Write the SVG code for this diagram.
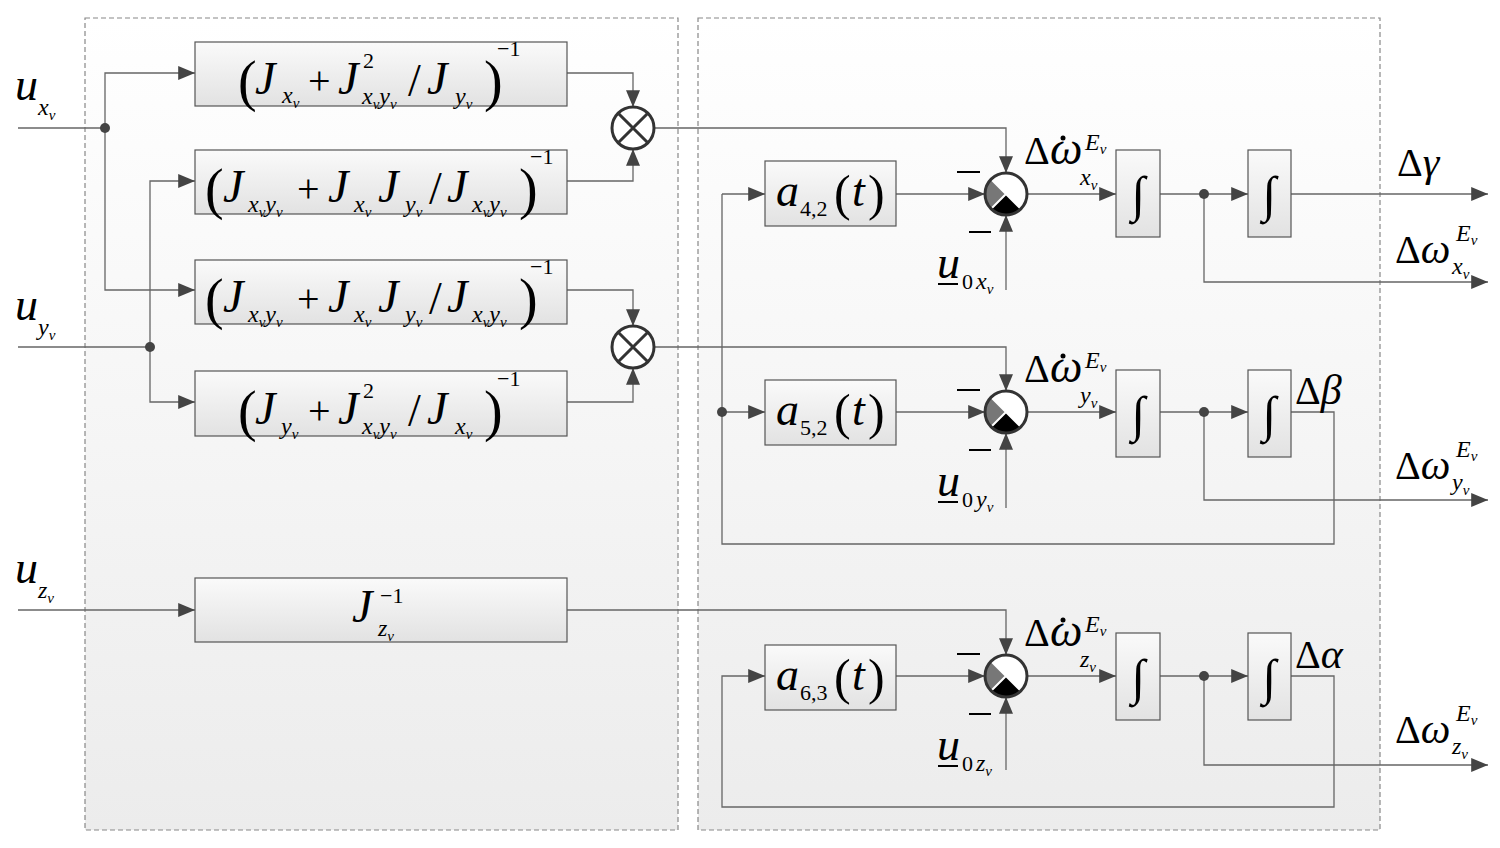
<svg xmlns="http://www.w3.org/2000/svg" width="1500" height="848" viewBox="0 0 1500 848">
<style>
.pn{fill:url(#g);stroke:#888;stroke-width:1.2;stroke-dasharray:5,3}
.bx{fill:url(#bg);stroke:#555;stroke-width:1.2}
.ln{fill:none;stroke:#666;stroke-width:1.3}
.ar{marker-end:url(#a)}
text{font-family:"Liberation Serif","DejaVu Serif","Times New Roman",serif;fill:#000}
.i{font-style:italic}
.J{font-style:italic;font-size:46px}
.P{font-size:56px}
.s{font-style:italic;font-size:24px}
.v{font-style:italic;font-size:15px}
.n{font-size:22px}
.mu{fill:#fff;stroke:#333;stroke-width:3}
</style>
<defs>
<linearGradient id="g" x1="0" y1="0" x2="0" y2="1"><stop offset="0" stop-color="#fff"/><stop offset="1" stop-color="#ececec"/></linearGradient>
<linearGradient id="bg" x1="0" y1="0" x2="0" y2="1"><stop offset="0" stop-color="#fafafa"/><stop offset="1" stop-color="#e2e2e2"/></linearGradient>
<marker id="a" viewBox="0 0 12 10" refX="12" refY="5" markerWidth="24" markerHeight="14" markerUnits="userSpaceOnUse" orient="auto"><path d="M0,0L12,5L0,10z" fill="#444"/></marker>
<g id="sum"><circle r="21" fill="#fff"/><path d="M0,0L-14.8,-14.8A21,21 0 0 0 -14.8,14.8z" fill="#777"/><path d="M0,0L-14.8,14.8A21,21 0 0 0 14.8,14.8z" fill="#000"/><path d="M-14.8,-14.8L14.8,14.8M14.8,-14.8L-14.8,14.8" stroke="#fff" stroke-width="2"/><circle r="21" fill="none" stroke="#333" stroke-width="3"/></g>
<g id="mul"><circle r="21" class="mu"/><path d="M-14.8,-14.8L14.8,14.8M14.8,-14.8L-14.8,14.8" stroke="#333" stroke-width="3"/></g>
</defs>
<rect class="pn" x="85" y="18" width="593" height="812"/>
<rect class="pn" x="698" y="18" width="682" height="812"/>
<g id="connectors">
<path class="ln" d="M18,128H105"/><path class="ln ar" d="M105,128V73H195"/><path class="ln ar" d="M105,128V290H195"/>
<path class="ln" d="M18,347H150"/><path class="ln ar" d="M150,347V181H195"/><path class="ln ar" d="M150,347V402H195"/>
<path class="ln ar" d="M18,610H195"/>
<path class="ln ar" d="M567,73H633V107"/><path class="ln ar" d="M567,181H633V149"/>
<path class="ln ar" d="M567,290H633V326"/><path class="ln ar" d="M567,402H633V368"/>
<path class="ln ar" d="M655,128H1006V173"/><path class="ln ar" d="M655,347H1006V391"/><path class="ln ar" d="M567,610H1006V655"/>
<path class="ln ar" d="M896,194H985"/><path class="ln ar" d="M896,412H985"/><path class="ln ar" d="M896,676H985"/>
<path class="ln ar" d="M1006,290V215"/><path class="ln ar" d="M1006,508V433"/><path class="ln ar" d="M1006,770V697"/>
<path class="ln ar" d="M1027,194H1116"/><path class="ln ar" d="M1027,412H1116"/><path class="ln ar" d="M1027,676H1116"/>
<path class="ln ar" d="M1160,194H1248"/><path class="ln ar" d="M1160,412H1248"/><path class="ln ar" d="M1160,676H1248"/>
<path class="ln ar" d="M1291,194H1488"/><path class="ln ar" d="M1204,194V282H1488"/>
<path class="ln ar" d="M1204,412V500H1488"/><path class="ln ar" d="M1204,676V765H1488"/>
<path class="ln" d="M1291,412H1334V544H722V194"/><path class="ln ar" d="M722,194H765"/><path class="ln ar" d="M722,412H765"/>
<path class="ln ar" d="M1291,676H1334V807H722V676H765"/>
<g fill="#444"><circle cx="105" cy="128" r="5"/><circle cx="150" cy="347" r="5"/><circle cx="722" cy="412" r="5"/><circle cx="1204" cy="194" r="5"/><circle cx="1204" cy="412" r="5"/><circle cx="1204" cy="676" r="5"/></g>
</g>
<g id="b1">
<rect class="bx" x="195" y="42" width="372" height="64"/>
<text x="238" y="100" class="P">(</text><text x="255" y="94" class="J">J</text><text x="282" y="103" class="s">x<tspan class="v" dy="5">v</tspan></text>
<text x="308" y="94" font-size="40">+</text><text x="338" y="94" class="J">J</text><text x="363" y="68" class="n">2</text><text x="362" y="104" class="s">x<tspan class="v" dy="5">v</tspan><tspan dy="-5">y</tspan><tspan class="v" dy="5">v</tspan></text>
<text x="408" y="96" font-size="46">/</text><text x="427" y="94" class="J">J</text><text x="455" y="104" class="s">y<tspan class="v" dy="5">v</tspan></text>
<text x="484" y="100" class="P">)</text><text x="497" y="56" class="n">−1</text>
</g>
<g id="b2">
<rect class="bx" x="195" y="150" width="372" height="64"/>
<text x="205" y="208" class="P">(</text><text x="223" y="202" class="J">J</text><text x="248" y="212" class="s">x<tspan class="v" dy="5">v</tspan><tspan dy="-5">y</tspan><tspan class="v" dy="5">v</tspan></text>
<text x="297" y="202" font-size="40">+</text><text x="328" y="202" class="J">J</text><text x="354" y="212" class="s">x<tspan class="v" dy="5">v</tspan></text>
<text x="378" y="202" class="J">J</text><text x="405" y="212" class="s">y<tspan class="v" dy="5">v</tspan></text>
<text x="429" y="204" font-size="46">/</text><text x="447" y="202" class="J">J</text><text x="472" y="212" class="s">x<tspan class="v" dy="5">v</tspan><tspan dy="-5">y</tspan><tspan class="v" dy="5">v</tspan></text>
<text x="519" y="208" class="P">)</text><text x="530" y="164" class="n">−1</text>
</g>
<g id="b3">
<rect class="bx" x="195" y="260" width="372" height="64"/>
<text x="205" y="318" class="P">(</text><text x="223" y="312" class="J">J</text><text x="248" y="322" class="s">x<tspan class="v" dy="5">v</tspan><tspan dy="-5">y</tspan><tspan class="v" dy="5">v</tspan></text>
<text x="297" y="312" font-size="40">+</text><text x="328" y="312" class="J">J</text><text x="354" y="322" class="s">x<tspan class="v" dy="5">v</tspan></text>
<text x="378" y="312" class="J">J</text><text x="405" y="322" class="s">y<tspan class="v" dy="5">v</tspan></text>
<text x="429" y="314" font-size="46">/</text><text x="447" y="312" class="J">J</text><text x="472" y="322" class="s">x<tspan class="v" dy="5">v</tspan><tspan dy="-5">y</tspan><tspan class="v" dy="5">v</tspan></text>
<text x="519" y="318" class="P">)</text><text x="530" y="274" class="n">−1</text>
</g>
<g id="b4">
<rect class="bx" x="195" y="371" width="372" height="65"/>
<text x="238" y="430" class="P">(</text><text x="255" y="424" class="J">J</text><text x="281" y="434" class="s">y<tspan class="v" dy="5">v</tspan></text>
<text x="308" y="424" font-size="40">+</text><text x="338" y="424" class="J">J</text><text x="363" y="398" class="n">2</text><text x="362" y="434" class="s">x<tspan class="v" dy="5">v</tspan><tspan dy="-5">y</tspan><tspan class="v" dy="5">v</tspan></text>
<text x="408" y="426" font-size="46">/</text><text x="427" y="424" class="J">J</text><text x="455" y="434" class="s">x<tspan class="v" dy="5">v</tspan></text>
<text x="484" y="430" class="P">)</text><text x="497" y="386" class="n">−1</text>
</g>
<g id="b5">
<rect class="bx" x="195" y="578" width="372" height="64"/>
<text x="352" y="622" class="J">J</text><text x="378" y="636" class="s">z<tspan class="v" dy="5">v</tspan></text><text x="380" y="603" class="n">−1</text>
</g>
<g id="a42"><rect class="bx" x="765" y="161" width="131" height="65"/>
<text x="776" y="206" class="J">a</text><text x="800" y="216" class="n">4,2</text><text x="834" y="210" font-size="50">(</text><text x="852" y="206" class="J">t</text><text x="868" y="210" font-size="50">)</text></g>
<g id="a52"><rect class="bx" x="765" y="380" width="131" height="65"/>
<text x="776" y="425" class="J">a</text><text x="800" y="435" class="n">5,2</text><text x="834" y="429" font-size="50">(</text><text x="852" y="425" class="J">t</text><text x="868" y="429" font-size="50">)</text></g>
<g id="a63"><rect class="bx" x="765" y="645" width="131" height="65"/>
<text x="776" y="690" class="J">a</text><text x="800" y="700" class="n">6,3</text><text x="834" y="694" font-size="50">(</text><text x="852" y="690" class="J">t</text><text x="868" y="694" font-size="50">)</text></g>
<g id="ints" font-size="50" text-anchor="middle">
<rect class="bx" x="1116" y="150" width="44" height="87"/><text x="1138" y="211">∫</text>
<rect class="bx" x="1248" y="150" width="43" height="87"/><text x="1269" y="211">∫</text>
<rect class="bx" x="1116" y="370" width="44" height="87"/><text x="1138" y="431">∫</text>
<rect class="bx" x="1248" y="370" width="43" height="87"/><text x="1269" y="431">∫</text>
<rect class="bx" x="1116" y="633" width="44" height="87"/><text x="1138" y="694">∫</text>
<rect class="bx" x="1248" y="633" width="43" height="87"/><text x="1269" y="694">∫</text>
</g>
<g id="m1"><use href="#mul" x="633" y="128"/></g><g id="m2"><use href="#mul" x="633" y="347"/></g>
<g id="s1"><use href="#sum" x="1006" y="194"/></g><g id="s2"><use href="#sum" x="1006" y="412"/></g><g id="s3"><use href="#sum" x="1006" y="676"/></g>
<g id="labels">
<text x="15" y="100" class="J">u</text><text x="38" y="115" class="s">x<tspan class="v" dy="5">v</tspan></text>
<text x="15" y="320" class="J">u</text><text x="38" y="335" class="s">y<tspan class="v" dy="5">v</tspan></text>
<text x="15" y="583" class="J">u</text><text x="38" y="598" class="s">z<tspan class="v" dy="5">v</tspan></text>
<g stroke="#000" stroke-width="2"><path d="M957,172H980M969,232H991M957,390H980M969,450H991M957,654H980M969,714H991"/></g>
<text x="937" y="278" class="J">u</text><path d="M938,284H958" stroke="#000" stroke-width="2"/><text x="962" y="289" class="n">0</text><text x="976" y="289" class="s">x<tspan class="v" dy="5">v</tspan></text>
<text x="937" y="496" class="J">u</text><path d="M938,502H958" stroke="#000" stroke-width="2"/><text x="962" y="507" class="n">0</text><text x="976" y="507" class="s">y<tspan class="v" dy="5">v</tspan></text>
<text x="937" y="760" class="J">u</text><path d="M938,766H958" stroke="#000" stroke-width="2"/><text x="962" y="771" class="n">0</text><text x="976" y="771" class="s">z<tspan class="v" dy="5">v</tspan></text>
<text x="1024" y="164" font-size="40">Δ</text><text x="1050" y="164" class="J" font-size="42">ω</text><circle cx="1063" cy="138" r="2.5"/><text x="1085" y="150" class="s" font-size="20">E<tspan class="v" dy="4">v</tspan></text><text x="1080" y="185" class="s">x<tspan class="v" dy="5">v</tspan></text>
<text x="1024" y="382" font-size="40">Δ</text><text x="1050" y="382" class="J" font-size="42">ω</text><circle cx="1063" cy="356" r="2.5"/><text x="1085" y="368" class="s" font-size="20">E<tspan class="v" dy="4">v</tspan></text><text x="1080" y="403" class="s">y<tspan class="v" dy="5">v</tspan></text>
<text x="1024" y="646" font-size="40">Δ</text><text x="1050" y="646" class="J" font-size="42">ω</text><circle cx="1063" cy="620" r="2.5"/><text x="1085" y="632" class="s" font-size="20">E<tspan class="v" dy="4">v</tspan></text><text x="1080" y="667" class="s">z<tspan class="v" dy="5">v</tspan></text>
<text x="1397" y="176" font-size="40">Δ<tspan class="i" font-size="42">γ</tspan></text>
<text x="1295" y="404" font-size="40">Δ<tspan class="i" font-size="42">β</tspan></text>
<text x="1295" y="668" font-size="40">Δ<tspan class="i" font-size="42">α</tspan></text>
<text x="1395" y="263" font-size="40">Δ<tspan class="i" font-size="42">ω</tspan></text><text x="1456" y="241" class="s" font-size="20">E<tspan class="v" dy="4">v</tspan></text><text x="1452" y="274" class="s">x<tspan class="v" dy="5">v</tspan></text>
<text x="1395" y="479" font-size="40">Δ<tspan class="i" font-size="42">ω</tspan></text><text x="1456" y="457" class="s" font-size="20">E<tspan class="v" dy="4">v</tspan></text><text x="1452" y="490" class="s">y<tspan class="v" dy="5">v</tspan></text>
<text x="1395" y="743" font-size="40">Δ<tspan class="i" font-size="42">ω</tspan></text><text x="1456" y="721" class="s" font-size="20">E<tspan class="v" dy="4">v</tspan></text><text x="1452" y="754" class="s">z<tspan class="v" dy="5">v</tspan></text>
</g>
</svg>
